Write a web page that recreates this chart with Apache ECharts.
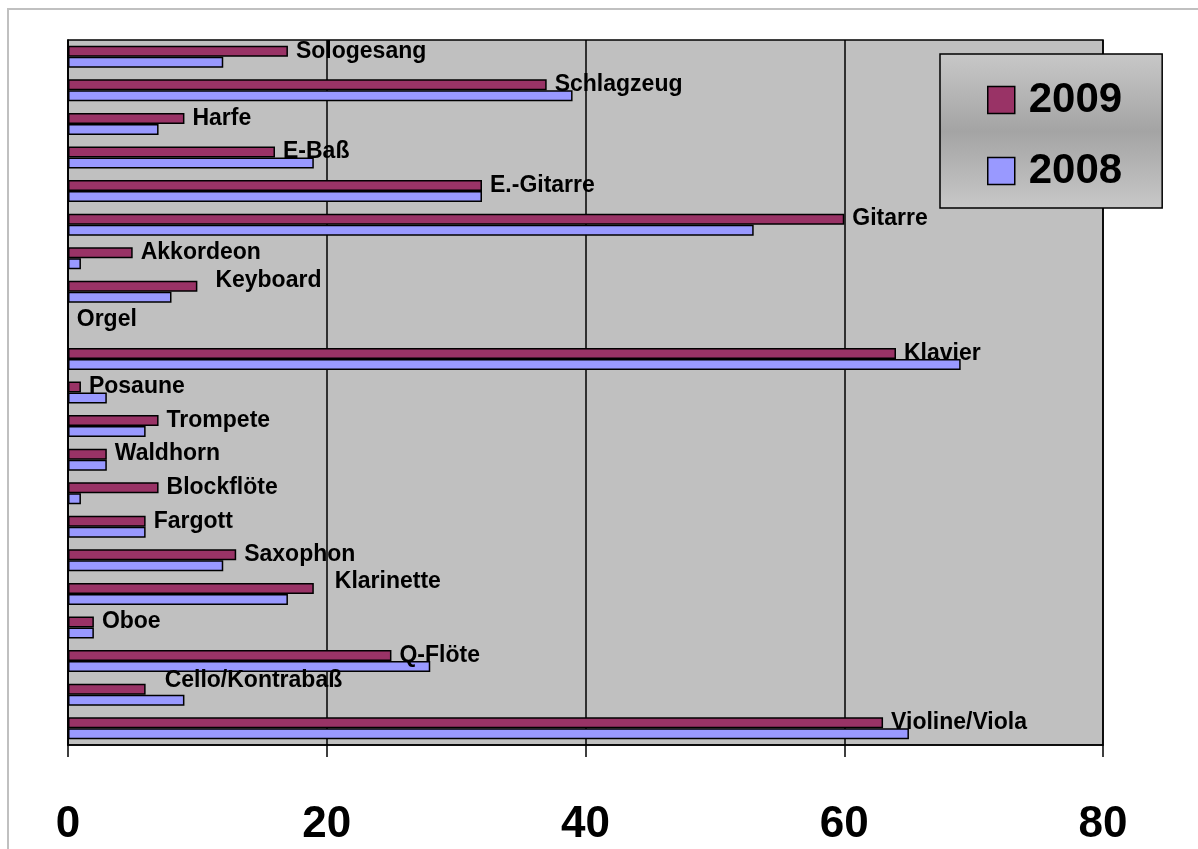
<!DOCTYPE html>
<html>
<head>
<meta charset="utf-8">
<title>Instrumente 2008 / 2009</title>
<script src="https://cdn.jsdelivr.net/npm/echarts@6/dist/echarts.min.js"></script>
<style>
  html, body { margin: 0; padding: 0; background: #ffffff; }
  #chart { width: 1198px; height: 849px; }
</style>
</head>
<body>
<div id="chart"></div>
<script>
// Instruments, listed from the bottom of the chart to the top
const categories = [
  'Violine/Viola', 'Cello/Kontrabaß', 'Q-Flöte', 'Oboe', 'Klarinette',
  'Saxophon', 'Fargott', 'Blockflöte', 'Waldhorn', 'Trompete', 'Posaune',
  'Klavier', 'Orgel', 'Keyboard', 'Akkordeon', 'Gitarre', 'E.-Gitarre',
  'E-Baß', 'Harfe', 'Schlagzeug', 'Sologesang'
];
const values2009 = [63, 6, 25, 2, 19, 13, 6, 7, 3, 7, 1, 64, 0, 10, 5, 60, 32, 16, 9, 37, 17];
const values2008 = [65, 9, 28, 2, 17, 12, 6, 1, 3, 6, 3, 69, 0, 8, 1, 53, 32, 19, 7, 39, 12];
const xTicks = [0, 20, 40, 60, 80];

// a few name labels sit slightly off their bar end
const labelShift = {
  'Keyboard': [10, -6],
  'Klarinette': [13, -7],
  'Cello/Kontrabaß': [11, -8]
};

const FONT = '"Liberation Sans", Arial, Helvetica, sans-serif';

const chart = echarts.init(document.getElementById('chart'));

const data2009 = values2009.map((v, i) => {
  const shift = labelShift[categories[i]];
  const item = { value: v };
  if (shift) item.label = { offset: shift };
  return item;
});

chart.setOption({
  animation: false,
  backgroundColor: '#ffffff',
  graphic: [{
    type: 'rect',
    shape: { x: 8, y: 9, width: 1220, height: 900 },
    style: { fill: 'none', stroke: '#c0c0c0', lineWidth: 2 },
    silent: true,
    z: -10
  }],
  grid: {
    left: 68, right: 95, top: 40, bottom: 104,
    show: true,
    backgroundColor: '#c0c0c0',
    borderColor: '#000000',
    borderWidth: 1.5
  },
  legend: {
    orient: 'vertical',
    left: 940,
    top: 54,
    padding: [25, 40, 16, 47],
    itemGap: 29,
    itemWidth: 27,
    itemHeight: 27,
    icon: 'rect',
    borderColor: '#000000',
    borderWidth: 1.5,
    backgroundColor: new echarts.graphic.LinearGradient(0, 0, 0, 1, [
      { offset: 0, color: '#c8c8c8' },
      { offset: 0.5, color: '#a4a4a4' },
      { offset: 1, color: '#c8c8c8' }
    ]),
    itemStyle: { borderColor: '#000000', borderWidth: 1.5 },
    textStyle: {
      fontFamily: FONT, fontWeight: 'bold', fontSize: 42, lineHeight: 42,
      color: '#000000', padding: [0, 0, 0, 9]
    },
    data: ['2009', '2008']
  },
  xAxis: {
    type: 'value',
    min: xTicks[0],
    max: xTicks[xTicks.length - 1],
    interval: 20,
    axisLine: { show: true, lineStyle: { color: '#000000', width: 1.5 } },
    axisTick: { show: true, length: 12, lineStyle: { color: '#000000', width: 1.5 } },
    axisLabel: {
      margin: 58,
      fontFamily: FONT, fontWeight: 'bold', fontSize: 44, color: '#000000'
    },
    splitLine: { show: true, lineStyle: { color: '#000000', width: 1.5 } }
  },
  yAxis: {
    type: 'category',
    data: categories,
    axisLine: { show: true, lineStyle: { color: '#000000', width: 1.5 } },
    axisTick: { show: false },
    axisLabel: { show: false },
    splitLine: { show: false }
  },
  series: [
    {
      name: '2009',
      type: 'bar',
      data: data2009,
      barWidth: 11,
      barGap: '0%',
      itemStyle: { color: '#993366', borderColor: '#000000', borderWidth: 1.5 },
      label: {
        show: true,
        position: 'right',
        distance: 8,
        formatter: p => p.name,
        fontFamily: FONT, fontWeight: 'bold', fontSize: 23, color: '#000000'
      },
      z: 3
    },
    {
      name: '2008',
      type: 'bar',
      data: values2008,
      barWidth: 11,
      barGap: '0%',
      itemStyle: { color: '#9999ff', borderColor: '#000000', borderWidth: 1.5 },
      z: 3
    }
  ]
});
</script>
</body>
</html>
